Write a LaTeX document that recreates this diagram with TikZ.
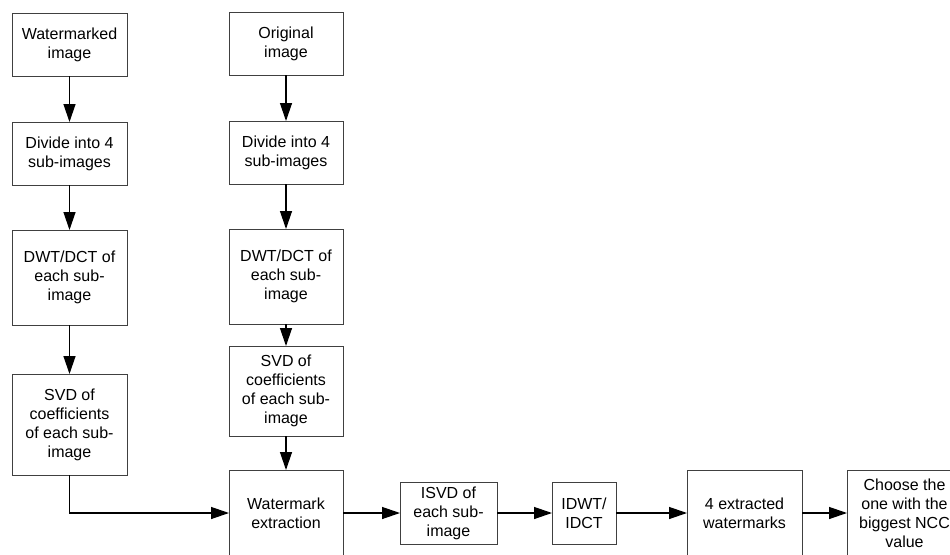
\documentclass[tikz,border=0pt]{standalone}
\usepackage{fontspec}
\setmainfont{Liberation Sans}
\usetikzlibrary{arrows.meta}
\usetikzlibrary{positioning}

\begin{document}
\begin{tikzpicture}[x=1pt,y=1pt]
\tikzstyle{box}=[rectangle,draw=black!75,line width=1pt,align=center,
inner sep=2pt,outer sep=0pt,font=\fontsize{16}{19}\selectfont]
\tikzstyle{arrow}=[line width=1.3pt,-{Triangle[length=18pt,width=12pt]}]
\useasboundingbox (0,0) rectangle (950,-554);
\clip (0,0) rectangle (950,-554);
% left column
\node[box,minimum width=115pt,minimum height=63pt] (watermarked) at (69.5,-44.5) {Watermarked\\image};
\node[box,minimum width=115pt,minimum height=63pt] (divide left) [below=46pt of watermarked] {Divide into 4\\sub-images};
\node[box,minimum width=115pt,minimum height=95pt] (dwt left) [below=45pt of divide left] {DWT/DCT of\\each sub-\\image};
\node[box,minimum width=115pt,minimum height=101pt] (svd left) [below=49pt of dwt left] {SVD of\\coefficients\\of each sub-\\image};
% right column
\node[box,minimum width=114pt,minimum height=63pt] (original) at (286,-43.5) {Original\\image};
\node[box,minimum width=114pt,minimum height=63pt] (divide right) [below=46pt of original] {Divide into 4\\sub-images};
\node[box,minimum width=114pt,minimum height=95pt] (dwt right) [below=45pt of divide right] {DWT/DCT of\\each sub-\\image};
\node[box,minimum width=114pt,minimum height=90pt] (svd right) [below=22pt of dwt right] {SVD of\\coefficients\\of each sub-\\image};
% bottom row
\node[box,minimum width=114pt,minimum height=86pt] (extraction) [below=34pt of svd right] {Watermark\\extraction};
\node[box,minimum width=97pt,minimum height=62pt] (isvd) [right=57pt of extraction] {ISVD of\\each sub-\\image};
\node[box,minimum width=64pt,minimum height=62pt] (idwt) [right=55pt of isvd] {IDWT/\\IDCT};
\node[box,minimum width=115pt,minimum height=86pt] (extracted) [right=71pt of idwt] {4 extracted\\watermarks};
\node[box,minimum width=115pt,minimum height=86pt] (choose) [right=45pt of extracted] {Choose the\\one with the\\biggest NCC\\value};
\draw[arrow] (watermarked) to (divide left);
\draw[arrow] (divide left) to (dwt left);
\draw[arrow] (dwt left) to (svd left);
\draw[arrow] (original) to (divide right);
\draw[arrow] (divide right) to (dwt right);
\draw[arrow] (dwt right) to (svd right);
\draw[arrow] (svd right) to (extraction);
\draw[arrow] (svd left) |- (extraction);
\draw[arrow] (extraction) to (isvd);
\draw[arrow] (isvd) to (idwt);
\draw[arrow] (idwt) to (extracted);
\draw[arrow] (extracted) to (choose);
\end{tikzpicture}
\end{document}
